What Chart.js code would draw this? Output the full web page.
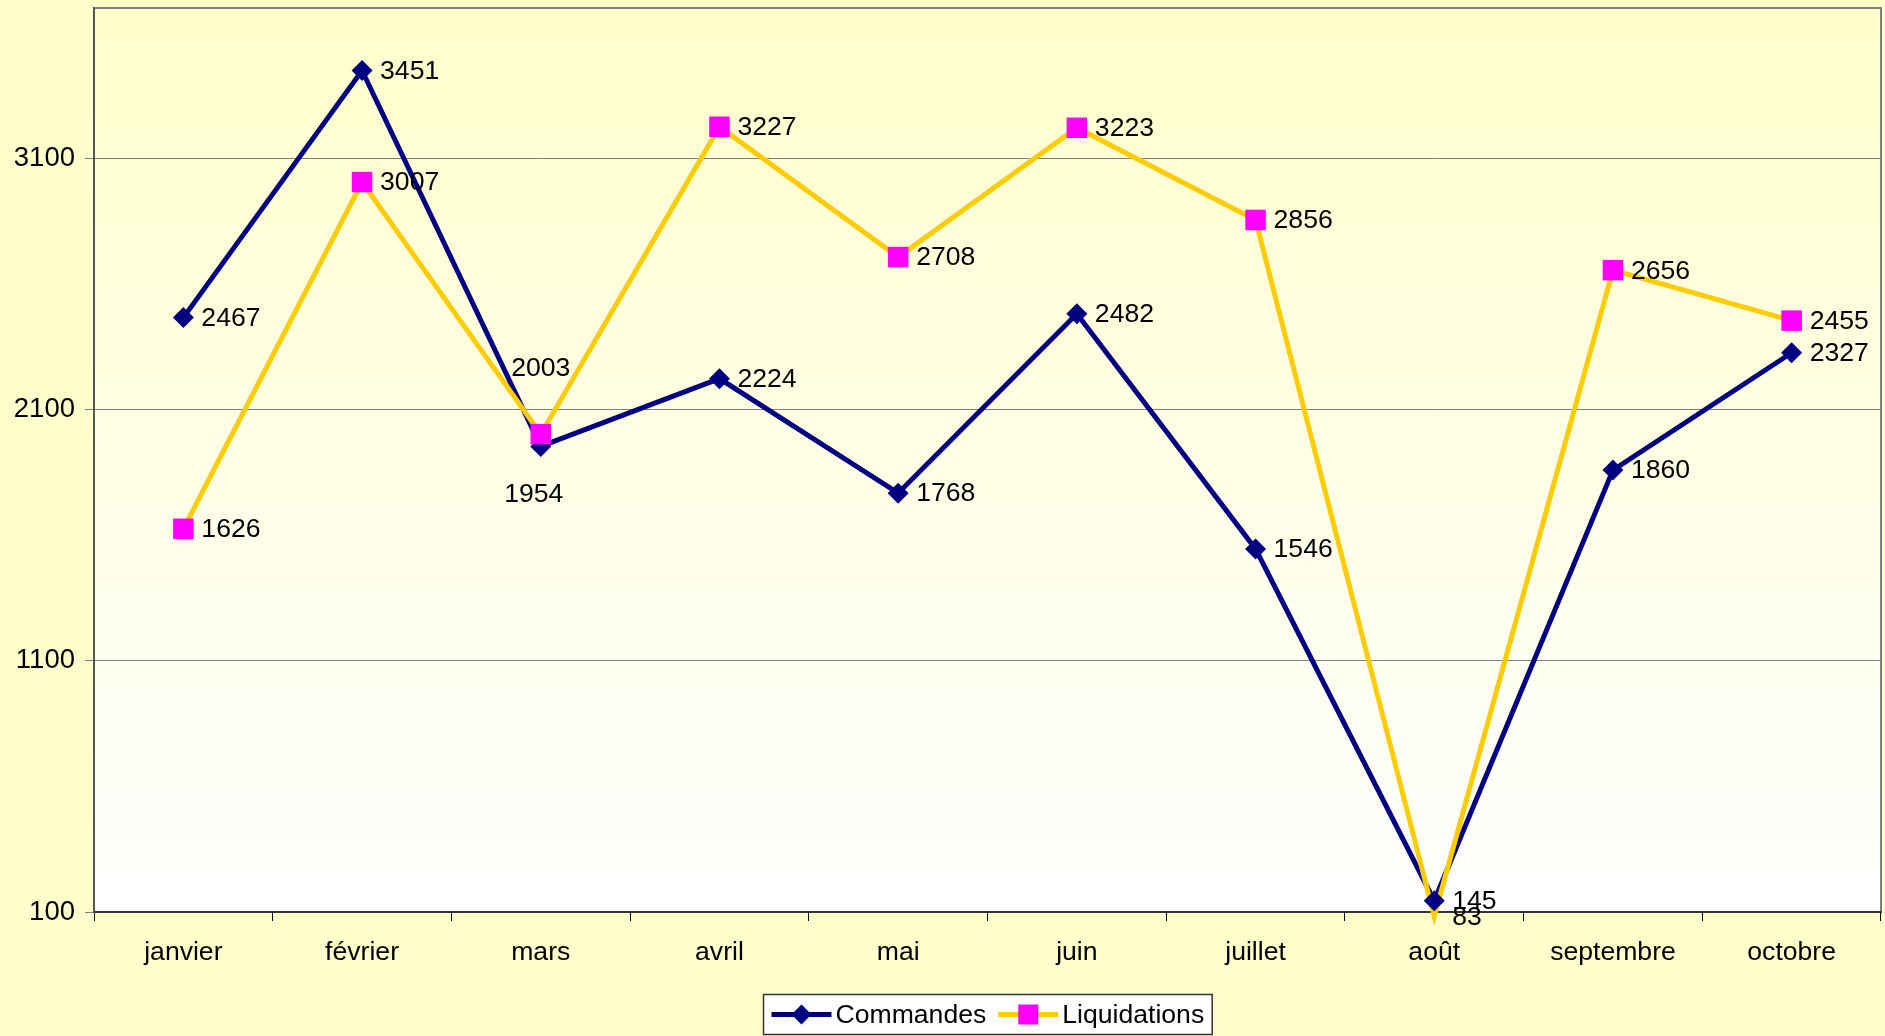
<!DOCTYPE html>
<html lang="fr">
<head>
<meta charset="UTF-8">
<title>Commandes et liquidations</title>
<script src="https://cdn.jsdelivr.net/npm/chart.js"></script>
<style>
  html, body { margin: 0; padding: 0; background: #ffffcc; }
  #wrap { width: 1885px; height: 1036px; }
</style>
</head>
<body>
<div id="wrap"><canvas id="chart" width="1885" height="1036"></canvas></div>
<script>
  // Données du graphique
  const months = ['janvier', 'février', 'mars', 'avril', 'mai', 'juin', 'juillet', 'août', 'septembre', 'octobre'];
  const commandes = [2467, 3451, 1954, 2224, 1768, 2482, 1546, 145, 1860, 2327];
  const liquidations = [1626, 3007, 2003, 3227, 2708, 3223, 2856, 83, 2656, 2455];
  const yTicks = [100, 1100, 2100, 3100];
  const yMin = 100, yMax = 3700;

  const FONT = '"Liberation Sans", Arial, sans-serif';
  const FSIZE = 26.6;
  Chart.defaults.font.family = FONT;
  Chart.defaults.font.size = FSIZE;
  Chart.defaults.color = '#000';

  const series = [
    { label: 'Commandes', data: commandes, line: '#000080', marker: '#000080', style: 'rectRot', radius: 10.5 },
    { label: 'Liquidations', data: liquidations, line: '#ffcc00', marker: '#ff00ff', style: 'rect', radius: 14.5 }
  ];

  // Fond dégradé + cadre de la zone de tracé
  const plotFrame = {
    id: 'plotFrame',
    beforeDraw(chart) {
      const { ctx, chartArea: a } = chart;
      ctx.save();
      ctx.fillStyle = '#ffffcc';
      ctx.fillRect(0, 0, chart.width, chart.height);
      const g = ctx.createLinearGradient(0, a.top, 0, a.bottom);
      g.addColorStop(0, '#ffffcc');
      g.addColorStop(1, '#ffffff');
      ctx.fillStyle = g;
      ctx.fillRect(a.left, a.top, a.right - a.left, a.bottom - a.top);
      ctx.strokeStyle = '#808080';
      ctx.lineWidth = 2;
      ctx.beginPath();
      ctx.moveTo(a.left, a.top);
      ctx.lineTo(a.right, a.top);
      ctx.lineTo(a.right, a.bottom);
      ctx.stroke();
      ctx.restore();
    }
  };

  // Étiquettes de valeurs (sur les séries de marqueurs)
  const pointLabels = {
    id: 'pointLabels',
    afterDatasetsDraw(chart, args, opts) {
      const ctx = chart.ctx;
      ctx.save();
      ctx.font = FSIZE + 'px ' + FONT;
      ctx.fillStyle = '#000';
      ctx.textBaseline = 'middle';
      chart.data.datasets.forEach((ds, i) => {
        if (!ds.markers) return;
        const meta = chart.getDatasetMeta(i);
        const special = opts.special[ds.label] || {};
        meta.data.forEach((pt, j) => {
          const txt = String(ds.data[j]);
          const s = special[j];
          if (s) {
            ctx.textAlign = 'center';
            ctx.fillText(txt, pt.x + s[0], pt.y + s[1]);
          } else {
            ctx.textAlign = 'left';
            ctx.fillText(txt, pt.x + 18, pt.y + 1);
          }
        });
      });
      ctx.restore();
    }
  };

  // Légende encadrée sous le graphique
  const boxLegend = {
    id: 'boxLegend',
    afterDraw(chart) {
      const { ctx, chartArea: a } = chart;
      ctx.save();
      ctx.font = FSIZE + 'px ' + FONT;
      const sample = 60, gap = 4, between = 12, pad = 8;
      let total = pad * 2;
      series.forEach((s, i) => {
        total += sample + gap + ctx.measureText(s.label).width;
        if (i < series.length - 1) total += between;
      });
      const h = 40;
      const x0 = Math.round((a.left + a.right) / 2 - total / 2) + 0.5;
      const y0 = 994.5;
      ctx.fillStyle = '#fff';
      ctx.fillRect(x0, y0, total, h);
      ctx.strokeStyle = '#333';
      ctx.lineWidth = 1.5;
      ctx.strokeRect(x0, y0, total, h);
      const cy = y0 + h / 2;
      let x = x0 + pad;
      series.forEach(s => {
        ctx.strokeStyle = s.line;
        ctx.lineWidth = 5;
        ctx.beginPath();
        ctx.moveTo(x, cy);
        ctx.lineTo(x + sample, cy);
        ctx.stroke();
        const cx = x + sample / 2;
        ctx.fillStyle = s.marker;
        ctx.beginPath();
        if (s.style === 'rectRot') {
          ctx.moveTo(cx, cy - 10); ctx.lineTo(cx + 10, cy);
          ctx.lineTo(cx, cy + 10); ctx.lineTo(cx - 10, cy);
          ctx.closePath();
        } else {
          ctx.rect(cx - 10, cy - 10, 20, 20);
        }
        ctx.fill();
        x += sample + gap;
        ctx.fillStyle = '#000';
        ctx.textAlign = 'left';
        ctx.textBaseline = 'middle';
        ctx.fillText(s.label, x, cy + 1);
        x += ctx.measureText(s.label).width + between;
      });
      ctx.restore();
    }
  };

  // Lignes d'abord, puis marqueurs par-dessus (Liquidations au-dessus)
  const lineSets = series.map((s, i) => ({
    label: s.label + ' (ligne)',
    data: s.data,
    borderColor: s.line,
    borderWidth: 5,
    pointRadius: 0,
    tension: 0,
    clip: false,
    order: 3 - i
  }));
  const markerSets = series.map((s, i) => ({
    label: s.label,
    markers: true,
    data: s.data,
    showLine: false,
    pointStyle: s.style,
    pointRadius: ctx => (ctx.raw < yMin ? 0 : s.radius),
    pointBackgroundColor: s.marker,
    pointBorderColor: s.marker,
    pointBorderWidth: 0,
    clip: false,
    order: 1 - i
  }));

  new Chart(document.getElementById('chart'), {
    type: 'line',
    data: {
      labels: months,
      datasets: [...lineSets, ...markerSets]
    },
    options: {
      responsive: false,
      animation: false,
      devicePixelRatio: 1,
      layout: { autoPadding: false, padding: { top: 8, right: 4, left: 0, bottom: 0 } },
      plugins: {
        legend: { display: false },
        tooltip: { enabled: false },
        pointLabels: {
          special: {
            Commandes: { 2: [-7, 48] },
            Liquidations: { 2: [0, -65] }
          }
        }
      },
      scales: {
        x: {
          offset: true,
          afterFit(scale) {
            scale.height = 124;
            scale.paddingLeft = 0;
            scale.paddingRight = 0;
          },
          grid: { drawOnChartArea: false, offset: true, color: '#000', tickLength: 9 },
          border: { color: '#333', width: 2 },
          ticks: { padding: 16, maxRotation: 0, autoSkip: false }
        },
        y: {
          min: yMin,
          max: yMax,
          afterFit(scale) {
            scale.width = 94;
            scale.paddingTop = 0;
            scale.paddingBottom = 0;
          },
          afterBuildTicks(scale) { scale.ticks = yTicks.map(v => ({ value: v })); },
          grid: { color: '#808080', lineWidth: 1, tickLength: 9 },
          border: { color: '#555', width: 2 },
          ticks: { padding: 10, font: { size: 27.5 }, callback: v => String(v) }
        }
      }
    },
    plugins: [plotFrame, pointLabels, boxLegend]
  });
</script>
</body>
</html>
